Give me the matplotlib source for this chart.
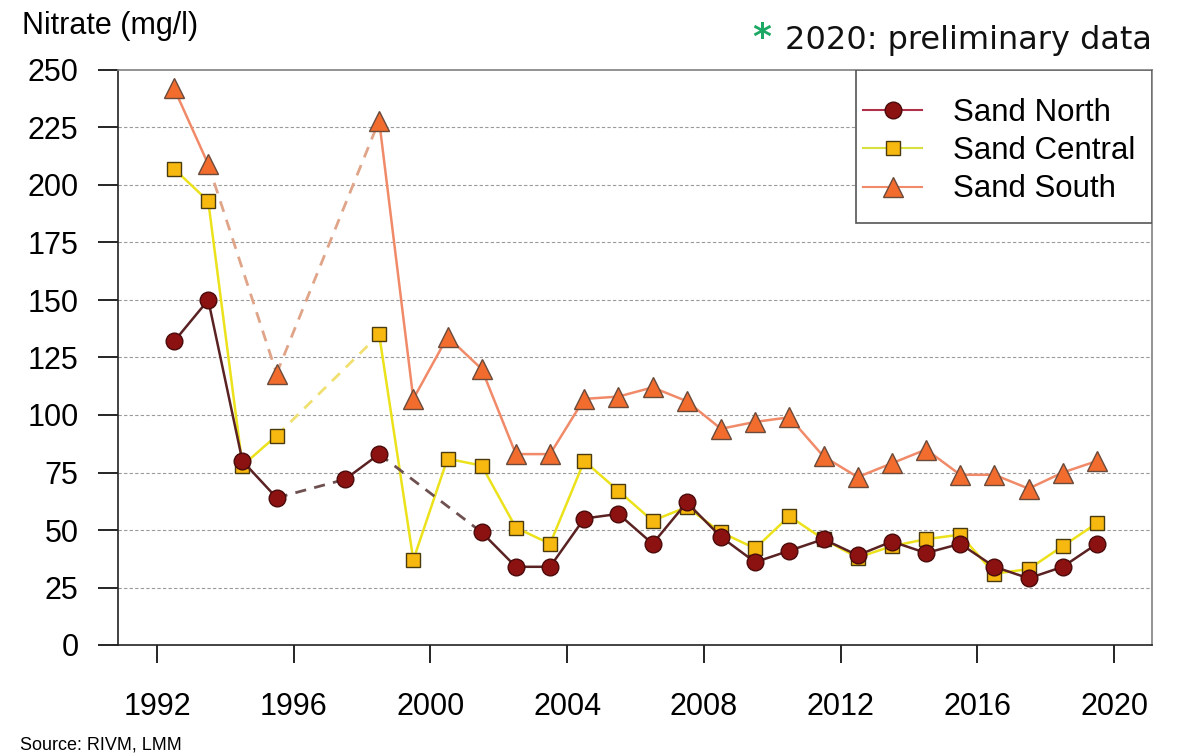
import numpy as np
import matplotlib
matplotlib.use("Agg")
import matplotlib.pyplot as plt
from matplotlib.lines import Line2D
from matplotlib.patches import Rectangle

plt.rcParams['font.family'] = ['Liberation Sans', 'DejaVu Sans']

# measuring years 1992-2019, plotted in the middle of each year
years = np.arange(1992, 2020)
nan = np.nan

sand_north = [132, 150, 80, 64, nan, 72, 83, nan, nan, 49, 34, 34, 55, 57, 44, 62,
              47, 36, 41, 46, 39, 45, 40, 44, 34, 29, 34, 44]
sand_central = [207, 193, 78, 91, nan, nan, 135, 37, 81, 78, 51, 44, 80, 67, 54, 60,
                49, 42, 56, 46, 38, 43, 46, 48, 31, 33, 43, 53]
sand_south = [242, 209, nan, 118, nan, nan, 228, 107, 134, 120, 83, 83, 107, 108, 112, 106,
              94, 97, 99, 82, 73, 79, 85, 74, 74, 68, 75, 80]

labels = ['Sand North', 'Sand Central', 'Sand South']
yticks = list(range(0, 251, 25))
xticks = list(range(1992, 2021, 4))

W, H = 1179, 755
fig = plt.figure(figsize=(W / 100, H / 100), dpi=100)
ax = fig.add_axes([118 / W, 1 - 645 / H, (1152 - 118) / W, (645 - 70) / H])


def draw(vals, line_c, dash_c, marker, mface, medge, ms, z):
    x = years + 0.5
    y = np.array(vals, dtype=float)
    ok = ~np.isnan(y)
    # dashed bridges across missing years
    idx = np.where(ok)[0]
    for a, b in zip(idx[:-1], idx[1:]):
        if b - a > 1:
            ax.plot([x[a], x[b]], [y[a], y[b]], color=dash_c, lw=2, ls=(0, (4, 3)), zorder=z)
    ax.plot(x, y, color=line_c, lw=1.8, zorder=z + 0.1)
    ax.plot(x[ok], y[ok], ls='none', marker=marker, ms=ms, mfc=mface, mec=medge,
            mew=1.0, zorder=z + 0.2)


draw(sand_south, '#f08a68', '#e0a488', '^', '#f26c2e', '#6a4a3a', 14, 3)
draw(sand_central, '#ece21c', '#f0e070', 's', '#f7b80f', '#4a3a10', 10, 4)
draw(sand_north, '#5a2222', '#6e5050', 'o', '#8c1212', '#4a0a0a', 12, 5)

ax.set_xlim(1990.86, 2021.11)
ax.set_ylim(0, 250)
ax.set_xticks(xticks)
ax.set_yticks(yticks)
ax.tick_params(axis='x', direction='out', length=13, width=1.2, pad=21, labelsize=22)
ax.tick_params(axis='y', direction='out', length=14.5, width=1.2, pad=14, labelsize=22)

for v in yticks[1:-1]:
    ax.axhline(v, color='#9a9a9a', lw=0.8, ls=(0, (3, 2)), zorder=1)

for s in ['left', 'bottom']:
    ax.spines[s].set_color('#222222')
    ax.spines[s].set_linewidth(1.2)
for s in ['top', 'right']:
    ax.spines[s].set_color('#808080')
    ax.spines[s].set_linewidth(1.2)

# legend box drawn separately, entries placed inside it
ax.add_patch(Rectangle((0.7137, 0.7339), 0.2863, 0.2661, transform=ax.transAxes,
                       facecolor='white', edgecolor='#555555', lw=1.2, zorder=9))
handles = [
    Line2D([], [], color='#b0304a', lw=1.5, marker='o', ms=12, mfc='#8c1212', mec='#4a0a0a'),
    Line2D([], [], color='#d8e040', lw=1.5, marker='s', ms=10, mfc='#f7b80f', mec='#4a3a10'),
    Line2D([], [], color='#f08a68', lw=1.5, marker='^', ms=14, mfc='#f26c2e', mec='#6a4a3a'),
]
leg = ax.legend(handles, labels, loc='center left', bbox_to_anchor=(0.7205, 0.8591),
                borderaxespad=0, borderpad=0, frameon=False, fontsize=22.5,
                handlelength=1.89, handletextpad=0.99, labelspacing=0.27)
leg.set_zorder(10)

fig.text(22 / W, 1 - 26 / H, 'Nitrate (mg/l)', fontsize=22, ha='left', va='center')
fig.text(752 / W, 1 - 38 / H, '*', fontsize=26, color='#1aa862', fontweight='bold',
         family='DejaVu Sans', ha='left', va='center')
fig.text(1152 / W, 1 - 40 / H, '2020: preliminary data', fontsize=23, family='DejaVu Sans',
         ha='right', va='center', color='#111111')
fig.text(20 / W, 1 - 745 / H, 'Source: RIVM, LMM', fontsize=13, ha='left', va='center')

fig.savefig('out.png', dpi=100)
